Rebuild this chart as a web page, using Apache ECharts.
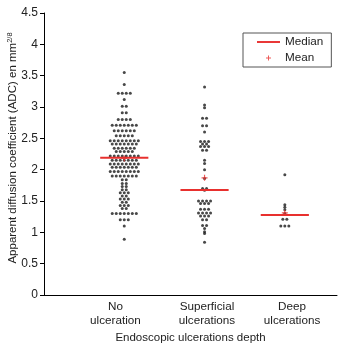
<!DOCTYPE html>
<html>
<head>
<meta charset="utf-8">
<script src="https://cdn.jsdelivr.net/npm/echarts@6/dist/echarts.min.js"></script>
<style>html,body{margin:0;padding:0;background:#fff}#c{width:342px;height:343px}</style>
</head>
<body>
<div id="c"></div>
<script>
const categories = ['No\nulceration', 'Superficial\nulcerations', 'Deep\nulcerations'];
const groupPositions = [1, 2, 3];
const labelPositions = [0.89, 2.03, 3.09];

const noUlceration = [
  3.55, 3.36, 3.22, 3.22, 3.22, 3.22, 3.12, 3.01, 3.01, 2.91, 2.91,
  2.80, 2.80, 2.80, 2.80,
  2.71, 2.71, 2.71, 2.71, 2.71, 2.71, 2.71,
  2.62, 2.62, 2.62, 2.62, 2.62, 2.62,
  2.54, 2.54, 2.54, 2.54, 2.54,
  2.46, 2.46, 2.46, 2.46, 2.46, 2.46, 2.46, 2.46,
  2.41, 2.41, 2.41, 2.41, 2.41, 2.41, 2.41,
  2.34, 2.34, 2.34, 2.34, 2.34, 2.34,
  2.29, 2.29, 2.29, 2.29, 2.29,
  2.22, 2.22, 2.22, 2.22, 2.22, 2.22, 2.22, 2.22,
  2.15, 2.15, 2.15, 2.15, 2.15, 2.15, 2.15,
  2.09, 2.09, 2.09, 2.09, 2.09, 2.09, 2.09, 2.09,
  2.04, 2.04, 2.04, 2.04, 2.04, 2.04, 2.04,
  1.97, 1.97, 1.97, 1.97, 1.97, 1.97, 1.97, 1.97,
  1.90, 1.90, 1.90, 1.90, 1.90, 1.90, 1.90,
  1.84, 1.84, 1.78, 1.78, 1.73, 1.73, 1.68, 1.68,
  1.63, 1.63, 1.63, 1.58, 1.58, 1.53, 1.53, 1.53,
  1.48, 1.48, 1.43, 1.43, 1.43, 1.38, 1.38,
  1.30, 1.30, 1.30, 1.30, 1.30, 1.30, 1.30,
  1.20, 1.20, 1.20, 1.10, 0.89
];
const superficial = [
  3.32, 3.03, 2.99, 2.82, 2.82, 2.70, 2.70, 2.60,
  2.45, 2.45, 2.45, 2.41, 2.41, 2.37, 2.37, 2.37, 2.31, 2.31,
  2.15, 2.10, 2.00, 1.86, 1.70, 1.70, 1.67,
  1.50, 1.50, 1.50, 1.50, 1.46, 1.46, 1.46,
  1.37, 1.37, 1.37, 1.31, 1.31, 1.31, 1.31,
  1.26, 1.26, 1.26, 1.20, 1.20, 1.11, 1.11, 1.06, 1.01, 0.98, 0.84
];
const deep = [1.92, 1.44, 1.40, 1.36, 1.30, 1.21, 1.21, 1.10, 1.10, 1.10];
const medians = [2.19, 1.675, 1.276];
const means = [2.18, 1.87, 1.31];

const RED = '#e8302e';
const DOT_STEP = 0.05;

function swarm(values, center, step) {
  const counts = {}, seen = {};
  values.forEach(v => { counts[v] = (counts[v] || 0) + 1; });
  return values.map(v => {
    const n = counts[v];
    const i = seen[v] = (seen[v] === undefined ? 0 : seen[v] + 1);
    return [center + (i - (n - 1) / 2) * step, v];
  });
}

const groups = [noUlceration, superficial, deep];
const dotData = [];
groups.forEach((g, k) => swarm(g, groupPositions[k], DOT_STEP).forEach(p => dotData.push(p)));

const plusLegend = 'path://M0,0h0.1v0.1h-0.1Z M23.9,23.9h0.1v0.1h-0.1Z M11,7h2v4h4v2h-4v4h-2v-4h-4v-2h4Z';
const plusMark = 'path://M4,0h2v4h4v2h-4v4h-2v-4h-4v-2h4Z';
const FONT = 'Liberation Sans, Arial, Helvetica, sans-serif';

const chart = echarts.init(document.getElementById('c'), null, {renderer: 'canvas'});
chart.setOption({
  animation: false,
  textStyle: {fontFamily: FONT},
  grid: {left: 44, right: 5, top: 13, bottom: 48, containLabel: false, outerBoundsMode: 'none'},
  legend: {
    left: 243, top: 33,
    orient: 'vertical',
    padding: [3, 8, 3, 14],
    itemGap: 4,
    itemWidth: 23, itemHeight: 12,
    borderColor: '#555', borderWidth: 1,
    backgroundColor: '#fff',
    textStyle: {fontSize: 11.7, color: '#222', fontFamily: FONT},
    data: [{name: 'Median', icon: 'path://M0,0H24V2H0Z'}, {name: 'Mean', icon: plusLegend}]
  },
  xAxis: {
    type: 'value', min: 0, max: 3.65,
    name: 'Endoscopic ulcerations depth',
    nameLocation: 'middle', nameGap: 37, nameMoveOverlap: false,
    nameTextStyle: {fontSize: 11.5, color: '#222', fontFamily: FONT},
    axisLine: {lineStyle: {color: '#000', width: 1}},
    axisTick: {show: false},
    splitLine: {show: false},
    axisLabel: {
      customValues: labelPositions,
      formatter: (v, i) => categories[labelPositions.indexOf(v) >= 0 ? labelPositions.indexOf(v) : i],
      fontSize: 11.7, color: '#222', lineHeight: 14, margin: 5, fontFamily: FONT
    }
  },
  yAxis: {
    type: 'value', min: 0, max: 4.5, interval: 0.5,
    name: 'Apparent diffusion coefficient (ADC) en mm{sup|2/8}',
    nameLocation: 'middle', nameRotate: 90, nameGap: 24, nameMoveOverlap: false,
    nameTextStyle: {
      fontSize: 11.5, color: '#222', fontFamily: FONT, lineHeight: 14,
      padding: [0, 0, 0, 12],
      rich: {sup: {fontSize: 7.5, color: '#222', verticalAlign: 'top', lineHeight: 14, fontFamily: FONT}}
    },
    axisLine: {show: true, lineStyle: {color: '#000', width: 1}},
    axisTick: {show: true, length: 4, lineStyle: {color: '#000'}},
    splitLine: {show: false},
    axisLabel: {fontSize: 12, color: '#222', margin: 6, fontFamily: FONT}
  },
  series: [
    {
      type: 'scatter', name: 'dots', data: dotData,
      symbol: 'circle', symbolSize: 3,
      itemStyle: {color: '#1a1a1a'}, z: 2
    },
    {
      type: 'custom', name: 'Median', color: RED, z: 3,
      data: groupPositions.map((p, i) => [p, medians[i]]),
      renderItem: (params, api) => {
        const p = api.value(0), m = api.value(1);
        const a = api.coord([p - 0.3, m]), b = api.coord([p + 0.3, m]);
        return {type: 'line', shape: {x1: a[0], y1: a[1], x2: b[0], y2: b[1]}, style: {stroke: RED, lineWidth: 2}};
      }
    },
    {
      type: 'scatter', name: 'Mean', color: RED, z: 4,
      data: groupPositions.map((p, i) => [p, means[i]]),
      symbol: plusMark, symbolSize: 6,
      itemStyle: {color: RED}
    }
  ]
});
</script>
</body>
</html>
